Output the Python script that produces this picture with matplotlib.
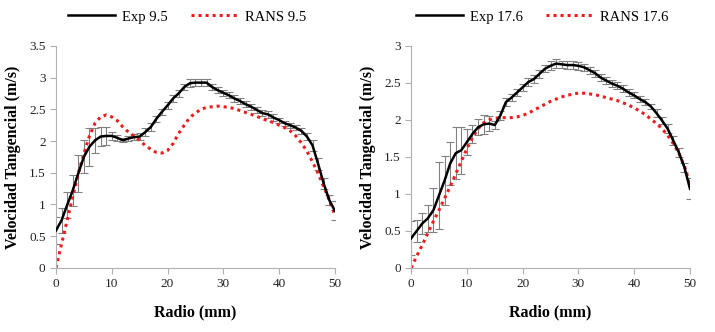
import matplotlib.pyplot as plt

plt.rcParams["font.family"] = ["Liberation Serif", "DejaVu Serif"]

radio = list(range(51))

# Exp 9.5 (left)
exp_95 = [0.59, 0.75, 0.99, 1.22, 1.49, 1.75, 1.91, 2.01, 2.07, 2.08,
          2.08, 2.05, 2.01, 2.04, 2.06, 2.07, 2.14, 2.22, 2.35, 2.46,
          2.56, 2.67, 2.75, 2.85, 2.91, 2.92, 2.92, 2.92, 2.85, 2.80,
          2.76, 2.72, 2.67, 2.63, 2.58, 2.54, 2.49, 2.44, 2.42, 2.37,
          2.33, 2.28, 2.25, 2.21, 2.16, 2.07, 1.93, 1.64, 1.33, 1.07,
          0.90]
err_95 = [0.22, 0.20, 0.20, 0.25, 0.29, 0.26, 0.30, 0.20, 0.15, 0.14,
          0.06, 0.05, 0.03, 0.04, 0.05, 0.05, 0.06, 0.06, 0.05, 0.05,
          0.05, 0.05, 0.05, 0.05, 0.06, 0.06, 0.06, 0.06, 0.05, 0.05,
          0.05, 0.05, 0.05, 0.05, 0.05, 0.05, 0.05, 0.05, 0.05, 0.05,
          0.04, 0.04, 0.04, 0.04, 0.05, 0.06, 0.08, 0.10, 0.08, 0.08,
          0.15]
rans_95 = [0.00, 0.38, 0.75, 1.12, 1.49, 1.80, 2.08, 2.28, 2.38, 2.41,
           2.38, 2.32, 2.22, 2.14, 2.08, 2.01, 1.93, 1.87, 1.82, 1.81,
           1.85, 1.96, 2.12, 2.25, 2.37, 2.44, 2.50, 2.53, 2.54, 2.55,
           2.54, 2.53, 2.51, 2.48, 2.45, 2.42, 2.39, 2.35, 2.32, 2.29,
           2.25, 2.21, 2.16, 2.08, 1.97, 1.84, 1.67, 1.49, 1.28, 1.07,
           0.83]

# Exp 17.6 (right)
exp_176 = [0.40, 0.50, 0.60, 0.67, 0.78, 0.98, 1.18, 1.41, 1.55, 1.59,
           1.70, 1.81, 1.90, 1.94, 1.95, 1.93, 2.06, 2.24, 2.30, 2.37,
           2.44, 2.51, 2.55, 2.62, 2.69, 2.73, 2.76, 2.75, 2.74, 2.74,
           2.73, 2.71, 2.67, 2.63, 2.57, 2.53, 2.49, 2.46, 2.42, 2.37,
           2.33, 2.28, 2.24, 2.18, 2.09, 1.99, 1.88, 1.72, 1.56, 1.36,
           1.07]
err_176 = [0.23, 0.15, 0.14, 0.18, 0.30, 0.45, 0.33, 0.29, 0.35, 0.32,
           0.18, 0.12, 0.11, 0.13, 0.10, 0.06, 0.06, 0.05, 0.05, 0.05,
           0.05, 0.05, 0.05, 0.05, 0.05, 0.06, 0.06, 0.05, 0.05, 0.05,
           0.05, 0.05, 0.05, 0.05, 0.05, 0.05, 0.05, 0.05, 0.05, 0.05,
           0.04, 0.04, 0.04, 0.04, 0.05, 0.05, 0.06, 0.06, 0.06, 0.06,
           0.14]
rans_176 = [0.00, 0.16, 0.31, 0.47, 0.63, 0.78, 0.94, 1.10, 1.27, 1.44,
            1.61, 1.76, 1.88, 1.96, 2.00, 2.02, 2.03, 2.03, 2.03, 2.04,
            2.06, 2.09, 2.13, 2.17, 2.21, 2.25, 2.28, 2.31, 2.33, 2.35,
            2.36, 2.36, 2.35, 2.34, 2.32, 2.30, 2.28, 2.26, 2.23, 2.20,
            2.16, 2.12, 2.07, 2.01, 1.95, 1.88, 1.79, 1.68, 1.55, 1.38,
            1.12]

panels = [
    ("Exp 9.5", "RANS 9.5", exp_95, err_95, rans_95, 3.5, 0.0783),
    ("Exp 17.6", "RANS 17.6", exp_176, err_176, rans_176, 3.0, 0.575),
]

fig = plt.figure(figsize=(7.15, 3.32), dpi=100)

for exp_lbl, rans_lbl, exp, err, rans, ymax, left in panels:
    ax = fig.add_axes([left, 0.193, 0.39, 0.669])
    ax.errorbar(radio, exp, yerr=err, fmt="none", ecolor="#808080",
                elinewidth=0.8, capsize=3, capthick=0.8, zorder=1)
    ax.plot(radio, exp, color="black", lw=1.8, label=exp_lbl, zorder=3)
    ax.plot(radio, rans, color="#ee1c1c", lw=2.2, linestyle=(0, (1, 1.3)),
            label=rans_lbl, zorder=2)
    ax.set_xlim(0, 50)
    ax.set_ylim(0, ymax)
    ax.set_xticks([0, 10, 20, 30, 40, 50])
    ax.set_yticks([i * 0.5 for i in range(int(ymax / 0.5) + 1)])
    ax.set_yticklabels([f"{v:g}" for v in ax.get_yticks()])
    for s in ["top", "right"]:
        ax.spines[s].set_visible(False)
    for s in ["left", "bottom"]:
        ax.spines[s].set_color("#b0b0b0")
    ax.tick_params(labelsize=9.5, length=4, colors="#222222")
    ax.tick_params(axis="both", color="#b0b0b0")
    ax.set_xlabel("Radio (mm)", fontsize=11.5, fontweight="bold", labelpad=10)
    ax.set_ylabel("Velocidad Tangencial (m/s)", fontsize=11.5, fontweight="bold",
                  labelpad=6)
    ax.legend(loc="center", bbox_to_anchor=(0.47, 1.13), ncol=2, frameon=False,
              fontsize=10.5, handlelength=3.2, columnspacing=1.6, handletextpad=0.5)

fig.savefig("out.png", dpi=100)
